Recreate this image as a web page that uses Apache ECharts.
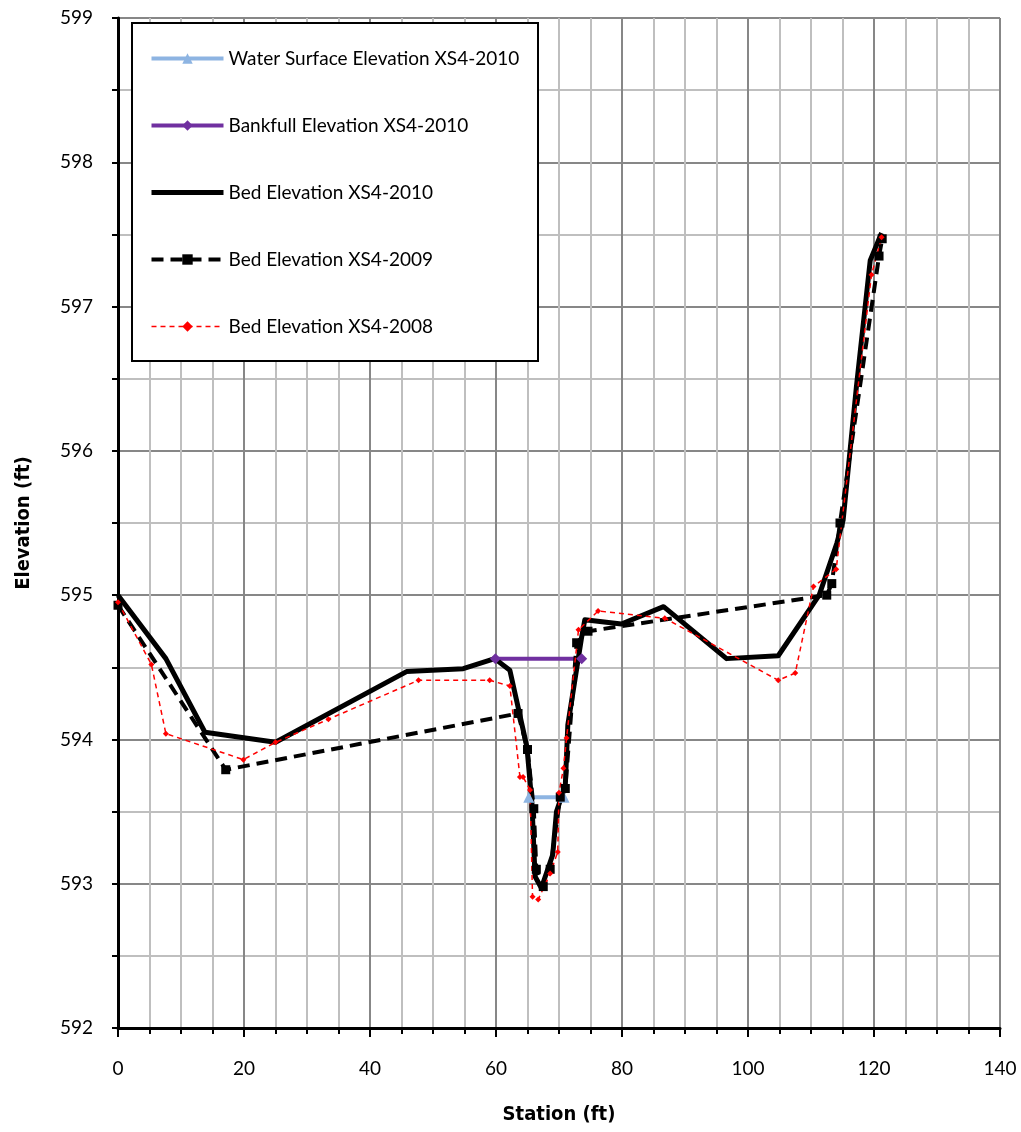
<!DOCTYPE html>
<html>
<head>
<meta charset="utf-8">
<script src="https://cdn.jsdelivr.net/npm/echarts@6/dist/echarts.min.js"></script>
<style>
html,body{margin:0;padding:0;background:#fff;}
#chart{width:1021px;height:1132px;}
</style>
</head>
<body>
<div id="chart"></div>
<script>
// ---- data ----
const waterX = [65.2, 70.8];
const waterY = [593.6, 593.6];

const bankX = [59.9, 73.6];
const bankY = [594.56, 594.56];

const bed2010X = [0, 7.6, 13.8, 25.0, 45.8, 54.8, 59.8, 62.2, 64.9, 65.7, 66.2, 67.2, 69.0, 69.6, 71.0, 71.4, 73.6, 74.1, 79.9, 86.6, 96.6, 104.8, 111.3, 114.1, 115.1, 117.2, 119.4, 121.2];
const bed2010Y = [595.00, 594.56, 594.05, 593.98, 594.47, 594.49, 594.56, 594.48, 593.95, 593.56, 593.05, 592.97, 593.20, 593.50, 593.68, 594.10, 594.71, 594.83, 594.80, 594.92, 594.56, 594.58, 595.00, 595.36, 595.52, 596.44, 597.32, 597.51];

const bed2009X = [0, 17.1, 63.5, 65.0, 66.0, 66.4, 67.5, 68.6, 70.2, 71.0, 72.8, 74.6, 112.5, 113.3, 114.6, 120.8, 121.3];
const bed2009Y = [594.93, 593.79, 594.18, 593.93, 593.52, 593.10, 592.98, 593.10, 593.60, 593.66, 594.67, 594.75, 595.00, 595.08, 595.50, 597.35, 597.47];

const bed2008X = [0, 5.3, 7.6, 19.9, 25.0, 33.4, 47.7, 59.0, 62.2, 63.8, 64.3, 65.4, 65.8, 66.7, 68.6, 69.8, 70.0, 70.7, 71.2, 73.1, 76.2, 86.8, 104.8, 107.5, 110.4, 114.0, 119.6, 121.2];
const bed2008Y = [594.95, 594.52, 594.04, 593.86, 593.98, 594.14, 594.41, 594.41, 594.37, 593.74, 593.74, 593.65, 592.91, 592.89, 593.07, 593.22, 593.63, 593.80, 594.01, 594.76, 594.89, 594.84, 594.41, 594.46, 595.06, 595.18, 597.22, 597.48];

const seriesNames = ['Water Surface Elevation XS4-2010', 'Bankfull Elevation XS4-2010', 'Bed Elevation XS4-2010', 'Bed Elevation XS4-2009', 'Bed Elevation XS4-2008'];
const xTitle = 'Station (ft)';
const yTitle = 'Elevation (ft)';

function pairs(xs, ys) { return xs.map((x, i) => [x, ys[i]]); }

const FONT = 'Lato';
const TITLE_FONT = "'Liberation Sans Narrow', 'DejaVu Sans Condensed', sans-serif";
const chart = echarts.init(document.getElementById('chart'), null, {renderer: 'canvas'});

const option = {
  backgroundColor: '#fff',
  animation: false,
  grid: {left: 118, right: 21, top: 18, bottom: 104, containLabel: false},
  graphic: [{
    type: 'rect', z: 10,
    shape: {x: 132, y: 23, width: 406, height: 338},
    style: {fill: '#fff', stroke: '#000', lineWidth: 2}
  }],
  legend: {
    z: 20,
    orient: 'vertical',
    left: 149, top: 49,
    itemWidth: 72, itemHeight: 13, itemGap: 48,
    padding: 0,
    lineStyle: {width: 'inherit', type: 'inherit'},
    textStyle: {fontFamily: FONT, fontSize: 19, color: '#000', lineHeight: 19},
    data: [
      {name: seriesNames[0]},
      {name: seriesNames[1]},
      {name: seriesNames[2], itemStyle: {color: 'rgba(0,0,0,0)', borderWidth: 0, opacity: 0}},
      {name: seriesNames[3]},
      {name: seriesNames[4]}
    ]
  },
  xAxis: {
    type: 'value', min: 0, max: 140, interval: 20,
    name: xTitle, nameLocation: 'middle', nameGap: 77,
    nameTextStyle: {fontFamily: TITLE_FONT, fontSize: 20, fontWeight: 'bold', color: '#000'},
    axisLine: {show: true, onZero: false, lineStyle: {color: '#000', width: 3}},
    axisTick: {show: true, length: 9, lineStyle: {color: '#000', width: 2}},
    minorTick: {show: true, splitNumber: 4, length: 6, lineStyle: {color: '#000', width: 2}},
    axisLabel: {fontFamily: FONT, fontSize: 19, color: '#000', margin: 31},
    splitLine: {show: true, lineStyle: {color: '#878787', width: 2}},
    minorSplitLine: {show: true, lineStyle: {color: '#BFBFBF', width: 2}}
  },
  yAxis: {
    type: 'value', min: 592, max: 599, interval: 1,
    name: yTitle, nameLocation: 'middle', nameGap: 84, nameRotate: 90,
    nameTextStyle: {fontFamily: TITLE_FONT, fontSize: 20, fontWeight: 'bold', color: '#000'},
    axisLine: {show: true, onZero: false, lineStyle: {color: '#000', width: 3}},
    axisTick: {show: true, length: 6, lineStyle: {color: '#000', width: 2}},
    minorTick: {show: true, splitNumber: 2, length: 6, lineStyle: {color: '#000', width: 2}},
    axisLabel: {fontFamily: FONT, fontSize: 19, color: '#000', margin: 25},
    splitLine: {show: true, lineStyle: {color: '#878787', width: 2}},
    minorSplitLine: {show: true, lineStyle: {color: '#BFBFBF', width: 2}}
  },
  series: [
    {
      name: seriesNames[0], type: 'line', data: pairs(waterX, waterY),
      symbol: 'triangle', symbolSize: 11, showSymbol: true,
      lineStyle: {color: '#8DB4E2', width: 4}, itemStyle: {color: '#8DB4E2'}
    },
    {
      name: seriesNames[1], type: 'line', data: pairs(bankX, bankY),
      symbol: 'diamond', symbolSize: 11, showSymbol: true,
      lineStyle: {color: '#7030A0', width: 4}, itemStyle: {color: '#7030A0'}
    },
    {
      name: seriesNames[2], type: 'line', data: pairs(bed2010X, bed2010Y),
      symbol: 'none',
      lineStyle: {color: '#000', width: 5, join: 'round'}, itemStyle: {color: '#000'}
    },
    {
      name: seriesNames[3], type: 'line', data: pairs(bed2009X, bed2009Y),
      symbol: 'rect', symbolSize: 9, showSymbol: true,
      lineStyle: {color: '#000', width: 4, type: [12, 7]}, itemStyle: {color: '#000'}
    },
    {
      name: seriesNames[4], type: 'line', data: pairs(bed2008X, bed2008Y),
      symbol: 'diamond', symbolSize: 6, showSymbol: true,
      lineStyle: {color: '#FF0000', width: 1.5, type: [5, 4]}, itemStyle: {color: '#FF0000'}
    }
  ]
};
chart.setOption(option);
</script>
</body>
</html>
